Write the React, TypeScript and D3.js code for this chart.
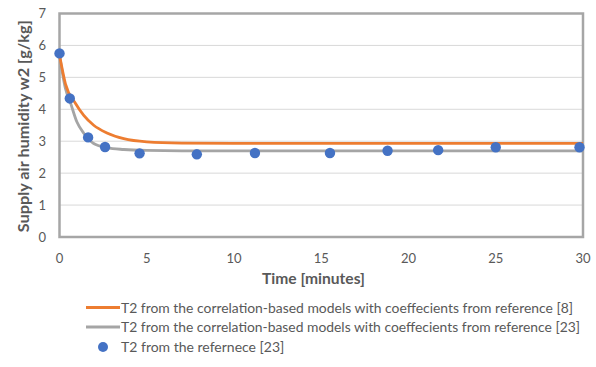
import React from "react";
import * as d3 from "d3";

const W = 596;
const H = 367;

const yTicks = [0, 1, 2, 3, 4, 5, 6, 7];
const xTicks = [0, 5, 10, 15, 20, 25, 30];

const orangeT = [0, 0.34, 0.91, 1.39, 1.96, 2.72, 3.68, 5, 7, 10, 15, 20, 25, 30];
const orangeW = [5.7, 4.8, 4.19, 3.81, 3.5, 3.26, 3.08, 2.98, 2.94, 2.93, 2.93, 2.93, 2.93, 2.93];

const grayT = [0, 0.34, 0.63, 1.0, 1.39, 1.96, 2.72, 3.68, 5, 7, 10, 15, 20, 25, 30];
const grayW = [5.7, 4.65, 4.2, 3.6, 3.25, 2.93, 2.8, 2.74, 2.71, 2.7, 2.7, 2.7, 2.7, 2.7, 2.7];

const refT = [0, 0.59, 1.64, 2.61, 4.59, 7.87, 11.2, 15.5, 18.8, 21.7, 25.0, 29.8];
const refW = [5.75, 4.34, 3.12, 2.82, 2.62, 2.59, 2.63, 2.63, 2.7, 2.72, 2.81, 2.81];

const legendLabels = [
  "T2 from the correlation-based models with coeffecients from reference [8]",
  "T2 from the correlation-based models with coeffecients from reference [23]",
  "T2 from the refernece [23]",
];

const ORANGE = "#ED7D31";
const GRAY = "#A5A5A5";
const BLUE = "#4472C4";
const TXT = "#595959";
const FONT = "Lato, 'Open Sans', sans-serif";

export default function App() {
  const x = d3.scaleLinear().domain([0, 30]).range([59.5, 583]);
  const y = d3.scaleLinear().domain([0, 7]).range([237, 13.5]);

  const line = d3
    .line<[number, number]>()
    .x((d) => x(d[0]))
    .y((d) => y(d[1]))
    .curve(d3.curveMonotoneX);

  const orangeData: [number, number][] = orangeT.map((t, i) => [t, orangeW[i]]);
  const grayData: [number, number][] = grayT.map((t, i) => [t, grayW[i]]);

  return (
    <svg
      width={W}
      height={H}
      style={{ position: "absolute", left: 0, top: 0, background: "#fff" }}
      fontFamily={FONT}
    >
      <rect x={0} y={0} width={W} height={H} fill="#fff" />
      {yTicks.slice(1, -1).map((t) => (
        <line key={t} x1={x(0)} x2={x(30)} y1={y(t)} y2={y(t)} stroke="#D9D9D9" strokeWidth={1} />
      ))}
      <rect
        x={x(0)}
        y={y(7)}
        width={x(30) - x(0)}
        height={y(0) - y(7)}
        fill="none"
        stroke="#A6A6A6"
        strokeWidth={2.5}
      />
      {yTicks.map((t) => (
        <text key={t} x={46} y={y(t)} dy="0.35em" textAnchor="end" fontSize={13} fill={TXT}>
          {t}
        </text>
      ))}
      {xTicks.map((t) => (
        <text key={t} x={x(t)} y={263} textAnchor="middle" fontSize={13} fill={TXT}>
          {t}
        </text>
      ))}
      <text
        transform={`translate(28.5,${(y(0) + y(7)) / 2 + 1}) rotate(-90)`}
        textAnchor="middle"
        fontSize={14.5}
        fontWeight="bold"
        fill={TXT}
        textLength={212}
        lengthAdjust="spacingAndGlyphs"
      >
        Supply air humidity w2 [g/kg]
      </text>
      <text
        x={313.5}
        y={284}
        textAnchor="middle"
        fontSize={15}
        fontWeight="bold"
        fill={TXT}
        textLength={103}
        lengthAdjust="spacingAndGlyphs"
      >
        Time [minutes]
      </text>
      <path d={line(grayData) || ""} fill="none" stroke={GRAY} strokeWidth={2.8} />
      <path d={line(orangeData) || ""} fill="none" stroke={ORANGE} strokeWidth={2.8} />
      {refT.map((t, i) => (
        <circle key={i} cx={x(t)} cy={y(refW[i])} r={5.2} fill={BLUE} />
      ))}
      <g fontSize={14} fill={TXT}>
        <line x1={86} x2={120} y1={307.5} y2={307.5} stroke={ORANGE} strokeWidth={2.8} />
        <text x={121} y={312.5} textLength={452} lengthAdjust="spacingAndGlyphs">
          {legendLabels[0]}
        </text>
        <line x1={86} x2={120} y1={327} y2={327} stroke={GRAY} strokeWidth={2.8} />
        <text x={121} y={332} textLength={459} lengthAdjust="spacingAndGlyphs">
          {legendLabels[1]}
        </text>
        <circle cx={103} cy={347} r={5} fill={BLUE} />
        <text x={121} y={352}>{legendLabels[2]}</text>
      </g>
    </svg>
  );
}
